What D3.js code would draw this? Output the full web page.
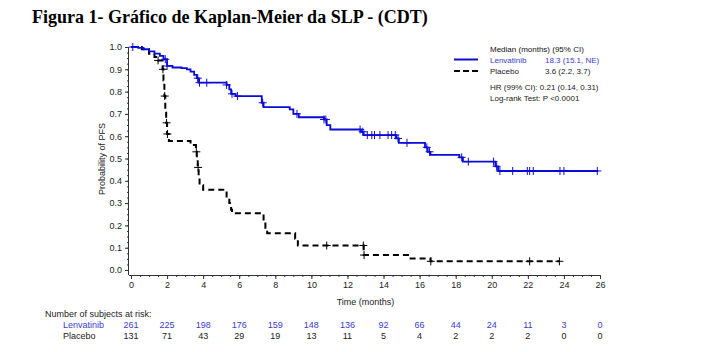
<!DOCTYPE html>
<html>
<head>
<meta charset="utf-8">
<script src="https://cdn.jsdelivr.net/npm/d3@7"></script>
<style>
  body { margin: 0; background: #fff; }
  svg text { font-family: Arial, "Liberation Sans", sans-serif; }
</style>
</head>
<body>
<svg id="chart" width="725" height="352"></svg>
<script>
// Kaplan-Meier steps: [time (months), survival after the drop]
const lenvSteps = [
  [0, 1.0], [0.4, 0.996], [0.7, 0.99], [1.0, 0.98], [1.3, 0.97], [1.6, 0.96],
  [1.8, 0.945], [2.0, 0.915], [2.3, 0.908], [2.8, 0.905], [3.1, 0.9], [3.3, 0.89],
  [3.5, 0.875], [3.65, 0.86], [3.75, 0.84], [5.3, 0.83], [5.45, 0.81], [5.55, 0.79],
  [5.8, 0.78], [7.25, 0.75], [7.35, 0.73], [8.8, 0.72], [9.0, 0.70], [9.3, 0.685],
  [10.7, 0.675], [10.85, 0.65], [11.05, 0.63], [12.75, 0.62], [12.9, 0.605],
  [14.7, 0.59], [14.85, 0.57], [16.3, 0.55], [16.45, 0.53], [16.6, 0.516],
  [18.2, 0.505], [18.4, 0.486], [20.2, 0.465], [20.35, 0.444], [25.9, 0.444]
];
const lenvCensored = [
  0.1, 1.9, 2.0, 3.7, 3.8, 4.2, 5.3, 5.6, 5.9, 7.3, 9.2, 10.7, 10.8,
  12.7, 12.85, 13.1, 13.35, 13.5, 13.8, 14.25, 14.45, 14.65, 14.8, 15.3,
  16.4, 16.55, 18.33, 18.7, 20.1, 20.27, 20.45, 21.16, 21.97, 22.1, 22.3,
  23.78, 24.0, 25.85
];

const placeboSteps = [
  [0, 1.0], [0.6, 0.99], [1.0, 0.97], [1.3, 0.955], [1.5, 0.94], [1.75, 0.90],
  [1.8, 0.85], [1.85, 0.78], [1.9, 0.72], [1.95, 0.66], [2.0, 0.61], [2.1, 0.578],
  [3.3, 0.56], [3.6, 0.53], [3.65, 0.50], [3.7, 0.46], [3.75, 0.42], [3.8, 0.38],
  [4.0, 0.36], [5.3, 0.33], [5.45, 0.30], [5.55, 0.27], [5.6, 0.255],
  [7.35, 0.22], [7.45, 0.19], [7.55, 0.165], [9.1, 0.14], [9.25, 0.11],
  [12.9, 0.067], [15.5, 0.052], [16.6, 0.039], [23.75, 0.039]
];
const placeboCensored = [1.5, 1.77, 1.87, 1.97, 2.02, 3.62, 3.72, 10.85, 12.88, 12.92, 16.62, 22.1, 23.75];

const riskTimes = [0, 2, 4, 6, 8, 10, 12, 14, 16, 18, 20, 22, 24, 26];
const lenvAtRisk = [261, 225, 198, 176, 159, 148, 136, 92, 66, 44, 24, 11, 3, 0];
const placeboAtRisk = [131, 71, 43, 29, 19, 13, 11, 5, 4, 2, 2, 2, 0, 0];

const yTicks = [0, 0.1, 0.2, 0.3, 0.4, 0.5, 0.6, 0.7, 0.8, 0.9, 1.0];

const blue = "#0b0bd6";
const textBlue = "#3a3ad0";
const textGrey = "#222";

const svg = d3.select("#chart");

const x = d3.scaleLinear().domain([0, 26]).range([131, 600]);
const y = d3.scaleLinear().domain([0, 1]).range([270, 47]);

// title
svg.append("text")
  .attr("x", 32)
  .attr("y", 23)
  .style("font-family", "'Liberation Serif', 'Times New Roman', serif")
  .style("font-weight", "bold")
  .style("font-size", "18px")
  .style("fill", "#000")
  .text("Figura 1- Gráfico de Kaplan-Meier da SLP - (CDT)");

// axes
const xAxis = d3.axisBottom(x).tickValues(riskTimes).tickSize(4).tickFormat(d3.format("d"));
const xAxisG = svg.append("g")
  .attr("transform", "translate(0,275)")
  .call(xAxis);
xAxisG.select(".domain").attr("d", `M${x(0) - 2},0.5H${x(26)}`);

svg.append("g")
  .attr("transform", "translate(0,275)")
  .call(d3.axisBottom(x).tickValues(d3.range(0, 26.01, 0.5)).tickSize(2).tickFormat(""))
  .select(".domain").remove();

const yAxisG = svg.append("g")
  .attr("transform", "translate(129,0)")
  .call(d3.axisLeft(y).tickValues(yTicks).tickSize(4).tickFormat(d3.format(".1f")));
yAxisG.select(".domain").attr("d", `M-0.5,${y(1)}V275`);

svg.append("g")
  .attr("transform", "translate(129,0)")
  .call(d3.axisLeft(y).tickValues(d3.range(0, 1.001, 0.025)).tickSize(2).tickFormat(""))
  .select(".domain").remove();

svg.selectAll(".tick text")
  .style("font-size", "9px")
  .style("fill", textGrey);
svg.selectAll(".tick line, .domain").attr("stroke", "#333");

// axis labels
svg.append("text")
  .attr("transform", "rotate(-90)")
  .attr("x", -159)
  .attr("y", 105)
  .attr("text-anchor", "middle")
  .style("font-size", "9px")
  .style("fill", textGrey)
  .text("Probability of PFS");

svg.append("text")
  .attr("x", x(13))
  .attr("y", 305)
  .attr("text-anchor", "middle")
  .style("font-size", "9px")
  .style("fill", textGrey)
  .text("Time (months)");

// curves
const line = d3.line()
  .x(d => x(d[0]))
  .y(d => y(d[1]))
  .curve(d3.curveStepAfter);

function survAt(steps, t) {
  let s = steps[0][1];
  for (const [ti, si] of steps) {
    if (ti <= t) s = si;
  }
  return s;
}

svg.append("path")
  .datum(placeboSteps)
  .attr("fill", "none")
  .attr("stroke", "#000")
  .attr("stroke-width", 2)
  .attr("stroke-dasharray", "6,4")
  .attr("d", line);

svg.append("path")
  .datum(lenvSteps)
  .attr("fill", "none")
  .attr("stroke", blue)
  .attr("stroke-width", 1.8)
  .attr("d", line);

function drawCensors(times, steps, color) {
  const g = svg.append("g").attr("stroke", color).attr("stroke-width", 1);
  times.forEach(t => {
    const cx = x(t), cy = y(survAt(steps, t));
    g.append("line").attr("x1", cx).attr("x2", cx).attr("y1", cy - 4).attr("y2", cy + 4);
    g.append("line").attr("x1", cx - 4).attr("x2", cx + 4).attr("y1", cy).attr("y2", cy);
  });
}
drawCensors(placeboCensored, placeboSteps, "#000");
drawCensors(lenvCensored, lenvSteps, blue);

// legend
const legend = svg.append("g").style("font-size", "8px");
legend.append("text").attr("x", 490).attr("y", 52).style("fill", "#111").text("Median (months) (95% CI)");
legend.append("line").attr("x1", 454).attr("x2", 478).attr("y1", 59.5).attr("y2", 59.5)
  .attr("stroke", blue).attr("stroke-width", 2);
legend.append("text").attr("x", 490).attr("y", 62.5).style("fill", textBlue).text("Lenvatinib");
legend.append("text").attr("x", 545).attr("y", 62.5).style("fill", textBlue).text("18.3 (15.1, NE)");
legend.append("line").attr("x1", 454).attr("x2", 478).attr("y1", 71).attr("y2", 71)
  .attr("stroke", "#000").attr("stroke-width", 2).attr("stroke-dasharray", "6,3");
legend.append("text").attr("x", 490).attr("y", 74).style("fill", textGrey).text("Placebo");
legend.append("text").attr("x", 545).attr("y", 74).style("fill", textGrey).text("3.6 (2.2, 3.7)");
legend.append("text").attr("x", 490).attr("y", 90).style("fill", textGrey).text("HR (99% CI): 0.21 (0.14, 0.31)");
legend.append("text").attr("x", 490).attr("y", 100.5).style("fill", textGrey).text("Log-rank Test: P <0.0001");

// number at risk table
const risk = svg.append("g").style("font-size", "9px");
risk.append("text").attr("x", 45).attr("y", 317).style("fill", textGrey).text("Number of subjects at risk:");
risk.append("text").attr("x", 63).attr("y", 328).style("fill", textBlue).text("Lenvatinib");
risk.append("text").attr("x", 63).attr("y", 339).style("fill", textGrey).text("Placebo");

risk.selectAll(".lenv")
  .data(riskTimes.map((t, i) => [t, lenvAtRisk[i]]))
  .enter()
  .append("text")
  .attr("x", d => x(d[0]))
  .attr("y", 328)
  .attr("text-anchor", "middle")
  .style("fill", textBlue)
  .text(d => d[1]);

risk.selectAll(".plac")
  .data(riskTimes.map((t, i) => [t, placeboAtRisk[i]]))
  .enter()
  .append("text")
  .attr("x", d => x(d[0]))
  .attr("y", 339)
  .attr("text-anchor", "middle")
  .style("fill", textGrey)
  .text(d => d[1]);
</script>
</body>
</html>
